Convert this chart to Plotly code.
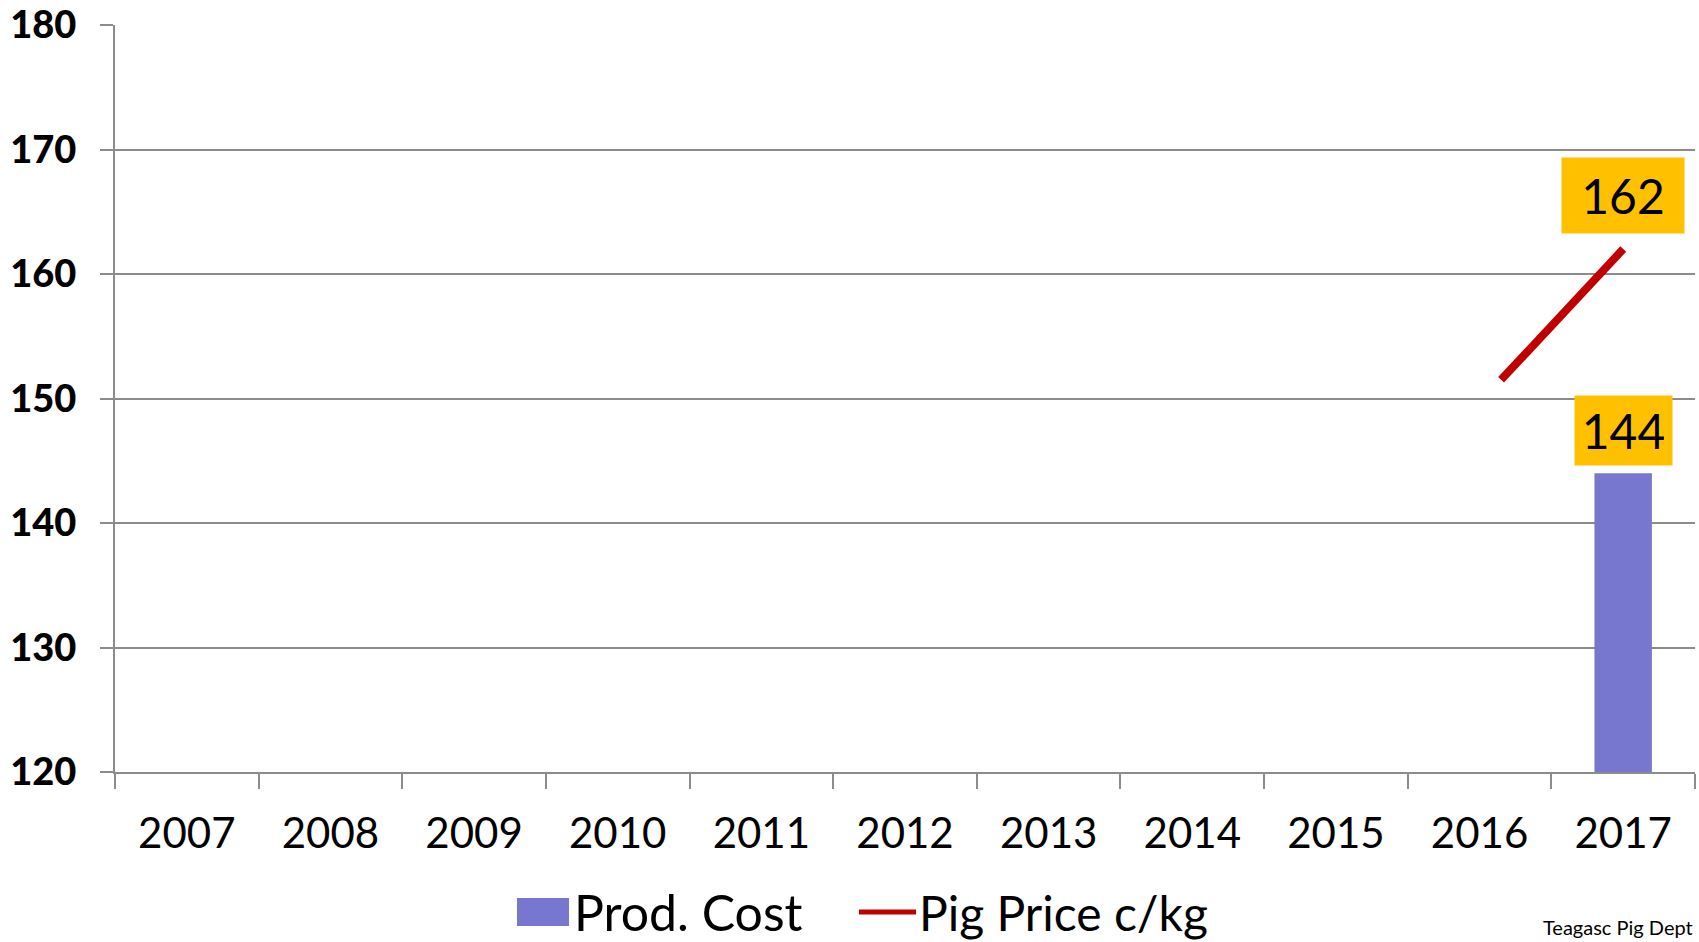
import plotly.graph_objects as go

years = [2007, 2008, 2009, 2010, 2011, 2012, 2013, 2014, 2015, 2016, 2017]
year_labels = [str(y) for y in years]
series_names = ["Prod. Cost", "Pig Price c/kg"]
prod_cost = [None, None, None, None, None, None, None, None, None, None, 144]
# pig price line (partially drawn segment approaching 2017)
price_x = [2016.15, 2017]
price_y = [151.5, 162]

GRID = "#8c8c8c"
BAR_COLOR = "#7777D0"
LINE_COLOR = "#C00000"
FONT = "Lato"

W, H = 1699, 942
ML, MR, MT, MB = 115, 4, 25, 170
PW, PH = W - ML - MR, H - MT - MB


def px(x):
    return (x - ML) / PW


def py(y):
    return (H - MB - y) / PH


fig = go.Figure()
fig.add_trace(go.Bar(
    x=years, y=prod_cost, name=series_names[0], width=0.4,
    marker=dict(color=BAR_COLOR, line=dict(width=0)), showlegend=False,
))
fig.add_trace(go.Scatter(
    x=price_x, y=price_y, name=series_names[1], mode="lines",
    line=dict(color=LINE_COLOR, width=8), showlegend=False,
))

# data labels
fig.add_annotation(x=2017, y=price_y[-1], text=str(price_y[-1]), showarrow=False,
                   yanchor="bottom", yshift=15, bgcolor="#FFC000", borderpad=8,
                   width=106, height=59, font=dict(family=FONT, size=48, color="black"))
fig.add_annotation(x=2017, y=prod_cost[-1], text=str(prod_cost[-1]), showarrow=False,
                   yanchor="bottom", yshift=7, bgcolor="#FFC000", borderpad=8,
                   width=81, height=53, font=dict(family=FONT, size=48, color="black"))

# custom legend
LEG_Y = 912
fig.add_shape(type="rect", xref="paper", yref="paper",
              x0=px(517), x1=px(569), y0=py(LEG_Y + 14), y1=py(LEG_Y - 14),
              fillcolor=BAR_COLOR, line=dict(width=0))
fig.add_annotation(xref="paper", yref="paper", x=px(572), y=py(LEG_Y), xanchor="left",
                   yanchor="middle", text=series_names[0], showarrow=False,
                   font=dict(family=FONT, size=50, color="black"))
fig.add_shape(type="line", xref="paper", yref="paper",
              x0=px(859), x1=px(916), y0=py(LEG_Y), y1=py(LEG_Y),
              line=dict(color=LINE_COLOR, width=5))
fig.add_annotation(xref="paper", yref="paper", x=px(917), y=py(LEG_Y), xanchor="left",
                   yanchor="middle", text=series_names[1], showarrow=False,
                   font=dict(family=FONT, size=48, color="black"))

fig.add_annotation(xref="paper", yref="paper", x=1.0, y=py(941), xanchor="right",
                   yanchor="bottom", text="Teagasc Pig Dept", showarrow=False,
                   font=dict(family=FONT, size=20, color="black"))

fig.update_layout(
    width=W, height=H,
    margin=dict(l=ML, r=MR, t=MT, b=MB, autoexpand=False),
    plot_bgcolor="white", paper_bgcolor="white",
    showlegend=False,
    xaxis=dict(
        type="linear", range=[2006.5, 2017.5], automargin=False,
        tickmode="array", tickvals=years, ticktext=year_labels, ticks="",
        tickfont=dict(family=FONT, size=42, color="black"),
        ticklabelstandoff=24,
        showgrid=False, zeroline=False,
        showline=True, linecolor=GRID, linewidth=2,
        minor=dict(tick0=2006.5, dtick=1, ticks="outside", ticklen=15,
                   tickcolor=GRID, tickwidth=2, showgrid=False),
    ),
    yaxis=dict(
        range=[120, 180], dtick=10, tick0=120, automargin=False,
        ticks="outside", ticklen=13, tickcolor=GRID, tickwidth=2,
        showgrid=True, gridcolor=GRID, gridwidth=2,
        showline=True, linecolor=GRID, linewidth=2, zeroline=False,
        tickfont=dict(family=FONT, size=38, color="black", weight=900),
        ticklabelstandoff=16,
    ),
    bargap=0.6,
)

fig.write_html("out.html", config={"displayModeBar": False},
               post_script="document.body.style.margin='0';"
                           "document.body.style.overflow='hidden';")
